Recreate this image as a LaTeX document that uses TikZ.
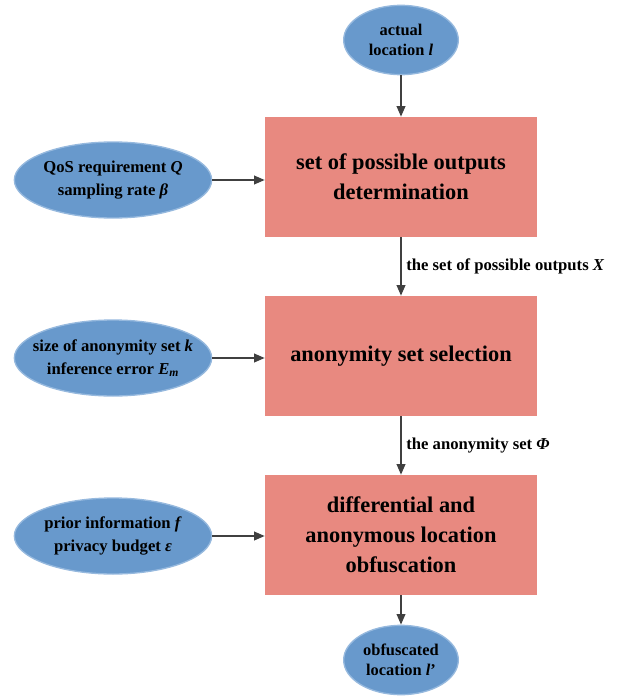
\documentclass[tikz,border=0pt]{standalone}
\usepackage{fontspec}
\setmainfont{Liberation Serif}
\usetikzlibrary{arrows.meta, shapes.geometric}

\definecolor{boxred}{RGB}{232,137,128}
\definecolor{ellblue}{RGB}{104,153,204}
\definecolor{ellrim}{RGB}{150,185,222}
\definecolor{flowgray}{RGB}{64,64,64}

\begin{document}
\begin{tikzpicture}[x=0.75pt, y=-0.75pt,
		stepbox/.style={rectangle, fill=boxred, minimum width=204pt, minimum height=90pt,
			align=center, font=\bfseries\fontsize{16.8}{22.5}\selectfont},
		inell/.style={ellipse, fill=ellblue, draw=ellrim, line width=1pt, minimum width=148pt,
			minimum height=57pt, inner xsep=-30pt, inner ysep=0pt, align=center,
			font=\bfseries\fontsize{12.5}{17}\selectfont},
		endell/.style={inell, minimum width=86pt, minimum height=52pt, font=\bfseries\fontsize{12.3}{15}\selectfont},
		flow/.style={draw=flowgray, line width=1.3pt, -{Triangle[length=8pt, width=6.5pt]}},
		flowlabel/.style={right, font=\bfseries\fontsize{12.5}{14}\selectfont}]
			\useasboundingbox (0,0) rectangle (620,699);

			% input and output
			\node[endell] (loc) at (401,40) {actual\\location \textit{l}};
			\node[endell] (obf) at (401,660) {obfuscated\\location \textit{l}’};

			% the three steps
			\node[stepbox] (det) at (401,177) {set of possible outputs\\determination};
			\node[stepbox] (sel) at (401,356) {anonymity set selection};
			\node[stepbox] (obs) at (401,535) {differential and\\anonymous location\\obfuscation};

			% parameters
			\node[inell] (qos) at (113,180) {QoS requirement \textit{Q}\\sampling rate \textit{β}};
			\node[inell] (ano) at (113,358) {size of anonymity set \textit{k}\\inference error \textit{E}\textsubscript{\textit{m}}};
			\node[inell] (pri) at (113,536) {prior information \textit{f}\\privacy budget \textit{ε}};

			\draw[flow] (loc) -- (det);
			\draw[flow] (det) -- (sel) node[midway, flowlabel] {the set of possible outputs \textit{X}};
			\draw[flow] (sel) -- (obs) node[midway, flowlabel] {the anonymity set \textit{Φ}};
			\draw[flow] (obs) -- (obf);

			\draw[flow] (qos) -- (qos -| det.west);
			\draw[flow] (ano) -- (ano -| sel.west);
			\draw[flow] (pri) -- (pri -| obs.west);
\end{tikzpicture}
\end{document}
